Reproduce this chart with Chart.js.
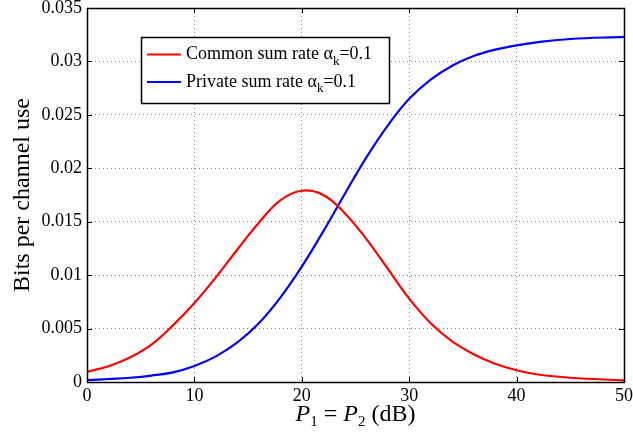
<!DOCTYPE html>
<html>
<head>
<meta charset="utf-8">
<script src="https://cdn.jsdelivr.net/npm/chart.js@4"></script>
<style>
  html, body { margin: 0; padding: 0; background: #fff; }
  #wrap { width: 633px; height: 433px; }
</style>
</head>
<body>
<div id="wrap"><canvas id="rate-chart" width="633" height="433"></canvas></div>
<script>
// P1 = P2 in dB
const powerDb = [0, 2, 4, 6, 8, 10, 12, 14, 16, 18, 20, 22, 24, 26, 28, 30, 32, 34, 36, 38, 40, 42, 45, 50];
const commonRate = [0.00095, 0.00148, 0.0023, 0.0035, 0.0053, 0.0074, 0.0098, 0.0124, 0.0149, 0.017, 0.0179, 0.0175,
  0.0158, 0.0134, 0.0106, 0.0078, 0.0055, 0.0038, 0.0026, 0.0017, 0.0011, 0.0007, 0.0004, 0.00015];
const privateRate = [0.00017, 0.00028, 0.0004, 0.0006, 0.0009, 0.0015, 0.0024, 0.0037, 0.0055, 0.0079, 0.0108, 0.0141,
  0.0176, 0.021, 0.024, 0.0265, 0.0283, 0.0296, 0.0305, 0.0311, 0.0315, 0.0318, 0.0321, 0.0323];
const seriesNames = ["Common sum rate \u03b1", "Private sum rate \u03b1"];
const xTicks = [0, 10, 20, 30, 40, 50];
const yTicks = [0, 0.005, 0.01, 0.015, 0.02, 0.025, 0.03, 0.035];

const serif = "'Liberation Serif', 'DejaVu Serif', serif";

function toPoints(ys) {
  return powerDb.map((x, i) => ({ x: x, y: ys[i] }));
}

// box round the plot with matlab style inward ticks, legend and x label
const framePlugin = {
  id: 'frame',
  afterDatasetsDraw(chart) {
    const { ctx, chartArea: a, scales } = chart;
    ctx.save();
    ctx.strokeStyle = '#000';
    ctx.lineWidth = 1;
    ctx.beginPath();
    xTicks.forEach(v => {
      const px = Math.round(scales.x.getPixelForValue(v)) + 0.5;
      ctx.moveTo(px, a.bottom); ctx.lineTo(px, a.bottom - 5);
      ctx.moveTo(px, a.top); ctx.lineTo(px, a.top + 5);
    });
    yTicks.forEach(v => {
      const py = Math.round(scales.y.getPixelForValue(v)) + 0.5;
      ctx.moveTo(a.left, py); ctx.lineTo(a.left + 5, py);
      ctx.moveTo(a.right, py); ctx.lineTo(a.right - 5, py);
    });
    ctx.stroke();
    ctx.lineWidth = 1.5;
    ctx.strokeRect(a.left + 0.5, a.top + 0.5, a.right - a.left, a.bottom - a.top);

    // legend box
    const lx = 141, ly = 37, lw = 248, lh = 66;
    ctx.fillStyle = '#fff';
    ctx.fillRect(lx, ly, lw, lh);
    ctx.lineWidth = 1.5;
    ctx.strokeRect(lx + 0.5, ly + 0.5, lw, lh);
    chart.data.datasets.forEach((ds, i) => {
      const y = 54.5 + i * 27.5;
      ctx.strokeStyle = ds.borderColor;
      ctx.lineWidth = 2;
      ctx.beginPath();
      ctx.moveTo(147, y); ctx.lineTo(181, y);
      ctx.stroke();
      ctx.fillStyle = '#000';
      ctx.textBaseline = 'middle';
      ctx.font = "18px " + serif;
      let tx = 186;
      ctx.fillText(ds.label, tx, y);
      tx += ctx.measureText(ds.label).width;
      ctx.font = "13px " + serif;
      ctx.fillText('k', tx, y + 7);
      tx += ctx.measureText('k').width;
      ctx.font = "18px " + serif;
      ctx.fillText('=0.1', tx, y);
    });

    // x label: P1 = P2 (dB) with italic P and subscripts
    const parts = [
      ['P', 'italic 24px ' + serif, 0], ['1', '15px ' + serif, 5], [' = ', '24px ' + serif, 0],
      ['P', 'italic 24px ' + serif, 0], ['2', '15px ' + serif, 5], [' (dB)', '24px ' + serif, 0]
    ];
    let total = 0;
    parts.forEach(p => { ctx.font = p[1]; total += ctx.measureText(p[0]).width; });
    let x0 = (a.left + a.right) / 2 - total / 2;
    ctx.textBaseline = 'alphabetic';
    ctx.fillStyle = '#000';
    parts.forEach(p => {
      ctx.font = p[1];
      ctx.fillText(p[0], x0, 421 + p[2]);
      x0 += ctx.measureText(p[0]).width;
    });
    ctx.restore();
  }
};

new Chart(document.getElementById('rate-chart'), {
  type: 'line',
  data: {
    datasets: [
      { label: seriesNames[0], data: toPoints(commonRate), borderColor: '#ff0000', borderWidth: 2.2, tension: 0.4 },
      { label: seriesNames[1], data: toPoints(privateRate), borderColor: '#0000ff', borderWidth: 2.2, tension: 0.4 }
    ]
  },
  options: {
    responsive: false,
    animation: false,
    elements: { point: { radius: 0 } },
    layout: { padding: { left: 0, right: 9, top: 8, bottom: 0 } },
    plugins: { legend: { display: false }, tooltip: { enabled: false } },
    scales: {
      x: {
        type: 'linear', min: 0, max: 50,
        afterBuildTicks: s => { s.ticks = xTicks.map(v => ({ value: v })); },
        afterFit: s => { s.height = 51; s.paddingLeft = 0; s.paddingRight = 0; },
        ticks: { color: '#000', padding: 3, maxRotation: 0, font: { family: serif, size: 18 } },
        grid: { color: '#888', drawTicks: false },
        border: { display: false, dash: [1, 3] }
      },
      y: {
        min: 0, max: 0.035,
        afterBuildTicks: s => { s.ticks = yTicks.map(v => ({ value: v })); },
        afterFit: s => { s.width = 87; s.paddingTop = 0; s.paddingBottom = 0; },
        ticks: { color: '#000', padding: 5, font: { family: serif, size: 18 },
          callback: v => String(+v.toFixed(3)) },
        grid: { color: '#888', drawTicks: false },
        border: { display: false, dash: [1, 3] },
        title: { display: true, text: 'Bits per channel use', color: '#000', padding: { top: 8, bottom: 0 },
          font: { family: serif, size: 24 } }
      }
    }
  },
  plugins: [framePlugin]
});
</script>
</body>
</html>
